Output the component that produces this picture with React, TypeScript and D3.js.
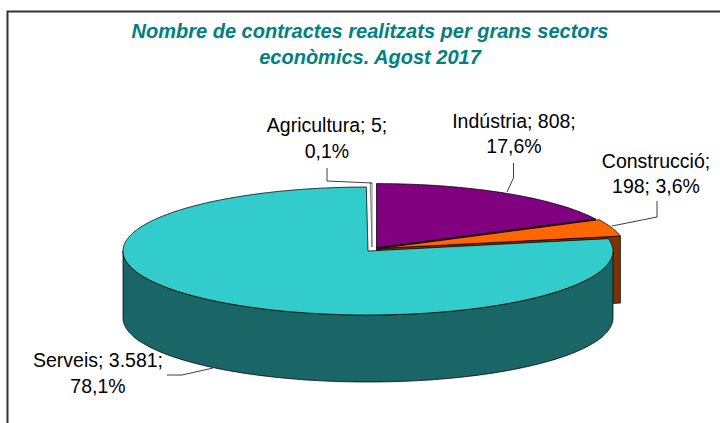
import React from "react";
import * as d3 from "d3";

const categories = ["Indústria", "Construcció", "Serveis", "Agricultura"];
const contracts = [808, 198, 3581, 5];
const labelLines = [
  ["Indústria; 808;", "17,6%"],
  ["Construcció;", "198; 3,6%"],
  ["Serveis; 3.581;", "78,1%"],
  ["Agricultura; 5;", "0,1%"],
];
const titleLines = ["Nombre de contractes realitzats per grans sectors", "econòmics. Agost 2017"];

const topColors = ["#800080", "#FF6600", "#33CCCC", "#FFFFFF"];
const sideColors = ["#400040", "#803300", "#1A6666", "#808080"];
const explode: [number, number][] = [[8.5, -3.4], [12, -2.6], [0, 0], [4, -4]];
const labelPos: [number, number, number][] = [
  [514, 128, 153],
  [656, 168, 192.5],
  [98, 367, 393],
  [327, 132, 158],
];
const leaders: [number, number][][] = [
  [[513.5, 163], [513.5, 178], [507, 192]],
  [[657, 201], [657, 217], [612, 226]],
  [[167, 375], [182, 375], [213, 368]],
  [[327, 168], [327, 181], [372, 183]],
];

const cx = 368, cy = 251, rx = 245, ry = 64, depth = 67;
const project = (a: number, o: [number, number], dy = 0): [number, number] => [
  cx + o[0] + rx * Math.sin(a),
  cy + o[1] + dy - ry * Math.cos(a),
];
const lineGen = d3.line();
const arcPts = (a0: number, a1: number, o: [number, number], dy = 0) => {
  const n = Math.max(2, Math.ceil(Math.abs(a1 - a0) * 60));
  return d3.range(n + 1).map((i) => project(a0 + ((a1 - a0) * i) / n, o, dy));
};

const pie = d3.pie<number>().sort(null).startAngle(0).endAngle(2 * Math.PI);
const arcs = pie(contracts);

function Top({ i }: { i: number }) {
  const s = arcs[i];
  const o = explode[i];
  const pts = [[cx + o[0], cy + o[1]] as [number, number], ...arcPts(s.startAngle, s.endAngle, o)];
  return <path d={lineGen(pts) + "Z"} fill={topColors[i]} stroke={i === 3 ? "#555" : "#000"} strokeWidth={0.75} strokeLinejoin="round" />;
}

function Rim({ i }: { i: number }) {
  const s = arcs[i];
  const o = explode[i];
  const a0 = Math.max(s.startAngle, Math.PI / 2);
  const a1 = Math.min(s.endAngle, 1.5 * Math.PI);
  if (a1 <= a0) return null;
  const pts = [...arcPts(a0, a1, o), ...arcPts(a1, a0, o, depth)];
  return <path d={lineGen(pts) + "Z"} fill={sideColors[i]} stroke="#000" strokeWidth={0.75} />;
}

function EndFace({ i }: { i: number }) {
  const s = arcs[i];
  const o = explode[i];
  const a = s.endAngle;
  const c: [number, number] = [cx + o[0], cy + o[1]];
  const e = project(a, o);
  const pts: [number, number][] = [c, e, [e[0], e[1] + depth], [c[0], c[1] + depth]];
  return <path d={lineGen(pts) + "Z"} fill={sideColors[i]} stroke="#000" strokeWidth={0.75} />;
}

export default function App() {
  const font = "'Liberation Sans', Arial, sans-serif";
  return (
    <svg width={720} height={423} style={{ position: "absolute", left: 0, top: 0, background: "#fff" }}>
      <path d="M720,11.5 H7.5 V423" fill="none" stroke="#333" strokeWidth={2} />
      {titleLines.map((t, i) => (
        <text key={t} x={370} y={38 + i * 25.5} textAnchor="middle" fontFamily={font} fontSize={20} fontWeight="bold" fontStyle="italic" fill="#008080">
          {t}
        </text>
      ))}
      <EndFace i={0} />
      <Top i={0} />
      <Top i={3} />
      <EndFace i={1} />
      <Rim i={1} />
      <Top i={1} />
      <Rim i={2} />
      <Top i={2} />
      {leaders.map((l, i) => (
        <path key={categories[i]} d={lineGen(l) ?? ""} fill="none" stroke="#000" strokeWidth={0.75} />
      ))}
      {labelLines.map((ls, i) =>
        ls.map((t, j) => (
          <text key={t} x={labelPos[i][0]} y={labelPos[i][1 + j]} textAnchor="middle" fontFamily={font} fontSize={19.5} fill="#000">
            {t}
          </text>
        ))
      )}
    </svg>
  );
}
